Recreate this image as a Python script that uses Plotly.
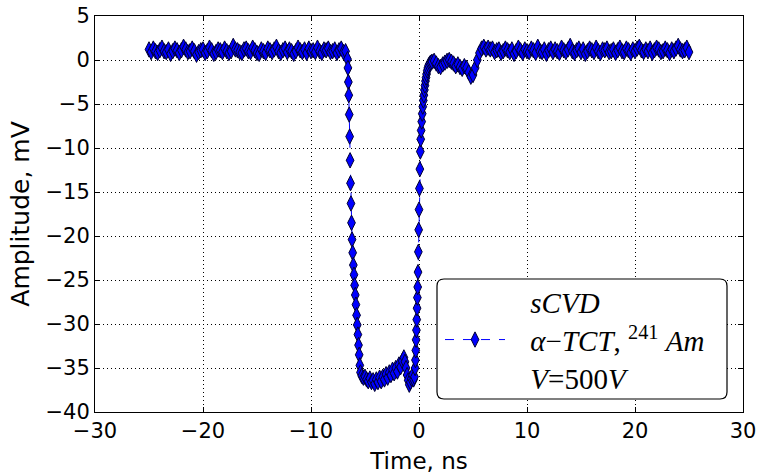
import plotly.graph_objects as go

# ---- data ----
t_pre = [-25.0, -24.8, -24.6, -24.4, -24.2, -24.0, -23.8, -23.6, -23.4, -23.2,
         -23.0, -22.8, -22.6, -22.4, -22.2, -22.0, -21.8, -21.6, -21.4, -21.2,
         -21.0, -20.8, -20.6, -20.4, -20.2, -20.0, -19.8, -19.6, -19.4, -19.2,
         -19.0, -18.8, -18.6, -18.4, -18.2, -18.0, -17.8, -17.6, -17.4, -17.2,
         -17.0, -16.8, -16.6, -16.4, -16.2, -16.0, -15.8, -15.6, -15.4, -15.2,
         -15.0, -14.8, -14.6, -14.4, -14.2, -14.0, -13.8, -13.6, -13.4, -13.2,
         -13.0, -12.8, -12.6, -12.4, -12.2, -12.0, -11.8, -11.6, -11.4, -11.2,
         -11.0, -10.8, -10.6, -10.4, -10.2, -10.0, -9.8, -9.6, -9.4, -9.2,
         -9.0, -8.8, -8.6, -8.4, -8.2, -8.0, -7.8, -7.6, -7.4, -7.2,
         -7.0, -6.8]
v_pre = [1.2, 0.9, 1.3, 1.0, 0.8, 1.1, 1.4, 1.0, 0.9, 1.2,
         0.7, 1.0, 1.3, 1.1, 0.8, 1.1, 1.5, 1.2, 0.9, 1.0,
         1.3, 1.0, 0.6, 0.9, 1.1, 1.2, 0.8, 1.0, 1.4, 1.1,
         0.7, 0.9, 1.2, 1.1, 0.9, 1.3, 1.0, 0.8, 1.0, 1.6,
         1.2, 1.1, 0.9, 0.8, 1.2, 1.3, 1.0, 0.9, 1.4, 1.1,
         0.8, 0.7, 1.2, 1.0, 0.8, 1.3, 1.1, 0.9, 1.2, 1.5,
         1.0, 0.8, 1.1, 1.3, 0.9, 1.2, 1.0, 0.7, 1.0, 1.4,
         1.1, 0.9, 1.2, 0.8, 1.3, 1.0, 1.1, 0.9, 1.4, 1.0,
         0.8, 1.2, 1.1, 1.3, 0.9, 1.0, 1.2, 0.8, 1.1, 1.3,
         0.9, 1.0]

t_fall = [-6.62, -6.58, -6.54, -6.50, -6.46, -6.42, -6.38, -6.34, -6.30, -6.25,
          -6.20, -6.14, -6.08, -6.02, -5.96, -5.90, -5.84, -5.78, -5.72, -5.66,
          -5.60, -5.54, -5.48, -5.42]
v_fall = [0.1, -0.9, -2.5, -4.0, -6.2, -8.7, -11.4, -14.0, -16.3, -18.5,
          -20.4, -21.9, -23.3, -24.4, -25.6, -26.7, -27.8, -29.0, -30.1, -31.2,
          -32.4, -33.5, -34.7, -35.5]

t_bottom = [-5.3, -5.15, -5.0, -4.85, -4.7, -4.55, -4.4, -4.25, -4.1, -3.95,
            -3.8, -3.65, -3.5, -3.35, -3.2, -3.05, -2.9, -2.75, -2.6, -2.45,
            -2.3, -2.15, -2.0, -1.85, -1.7, -1.55, -1.4, -1.3, -1.2, -1.1,
            -1.0, -0.9, -0.8, -0.7, -0.6, -0.5, -0.42]
v_bottom = [-35.9, -36.1, -36.0, -36.3, -36.5, -36.2, -36.6, -36.4, -36.8, -36.3,
            -36.6, -36.1, -36.5, -36.0, -36.3, -35.7, -36.1, -35.5, -35.8, -35.2,
            -35.6, -35.0, -35.4, -34.6, -34.9, -34.2, -33.8, -34.3, -35.0, -35.8,
            -36.4, -36.9, -36.6, -36.2, -35.8, -36.3, -36.0]

t_rise = [-0.36, -0.33, -0.30, -0.27, -0.24, -0.21, -0.18, -0.15, -0.12, -0.09,
          -0.06, -0.03, 0.0, 0.04, 0.08, 0.12, 0.16, 0.20, 0.25, 0.30,
          0.35, 0.40, 0.45, 0.50, 0.55, 0.60, 0.65, 0.70, 0.76, 0.82,
          0.90, 1.0, 1.1]
v_rise = [-35.0, -34.1, -33.0, -31.8, -30.7, -29.5, -28.2, -27.0, -25.8, -24.1,
          -21.8, -19.3, -17.0, -14.6, -12.4, -10.4, -9.0, -8.0, -7.0, -6.1,
          -5.3, -4.6, -4.0, -3.4, -2.9, -2.4, -2.0, -1.6, -1.2, -0.9,
          -0.6, -0.4, -0.3]

t_ring = [1.2, 1.4, 1.6, 1.8, 2.0, 2.2, 2.4, 2.6, 2.8, 3.0,
          3.2, 3.4, 3.6, 3.8, 4.0, 4.2, 4.4, 4.6, 4.8, 5.0,
          5.2, 5.4, 5.6, 5.8, 6.0, 6.2]
v_ring = [-0.2, -0.1, -0.4, -0.7, -0.8, -0.5, -0.3, -0.1, 0.0, -0.2,
          -0.4, -0.7, -0.5, -0.8, -1.0, -0.7, -0.9, -1.4, -1.9, -1.7,
          -0.9, 0.0, 0.8, 1.3, 1.5, 1.2]

t_post = [6.4, 6.6, 6.8, 7.0, 7.2, 7.4, 7.6, 7.8, 8.0, 8.2,
          8.4, 8.6, 8.8, 9.0, 9.2, 9.4, 9.6, 9.8, 10.0, 10.2,
          10.4, 10.6, 10.8, 11.0, 11.2, 11.4, 11.6, 11.8, 12.0, 12.2,
          12.4, 12.6, 12.8, 13.0, 13.2, 13.4, 13.6, 13.8, 14.0, 14.2,
          14.4, 14.6, 14.8, 15.0, 15.2, 15.4, 15.6, 15.8, 16.0, 16.2,
          16.4, 16.6, 16.8, 17.0, 17.2, 17.4, 17.6, 17.8, 18.0, 18.2,
          18.4, 18.6, 18.8, 19.0, 19.2, 19.4, 19.6, 19.8, 20.0, 20.2,
          20.4, 20.6, 20.8, 21.0, 21.2, 21.4, 21.6, 21.8, 22.0, 22.2,
          22.4, 22.6, 22.8, 23.0, 23.2, 23.4, 23.6, 23.8, 24.0, 24.2,
          24.4, 24.6, 24.8, 25.0]
v_post = [1.4, 1.2, 1.3, 0.9, 1.1, 1.2, 0.8, 1.0, 1.3, 1.1,
          0.9, 1.2, 0.7, 1.0, 1.4, 1.1, 0.8, 1.2, 1.0, 0.9,
          1.3, 1.1, 0.8, 1.5, 1.0, 0.9, 1.2, 0.7, 1.1, 1.3,
          0.9, 1.2, 1.0, 0.8, 1.4, 1.1, 0.9, 1.2, 1.6, 1.0,
          0.8, 1.1, 1.3, 0.9, 1.2, 0.7, 1.0, 1.3, 1.1, 0.9,
          1.4, 1.0, 0.8, 1.2, 1.1, 1.3, 0.9, 1.0, 1.2, 0.8,
          1.1, 1.4, 1.0, 0.9, 1.3, 1.1, 0.8, 1.2, 1.0, 1.3,
          1.5, 1.1, 0.9, 1.2, 1.0, 1.3, 0.8, 1.1, 1.4, 1.2,
          0.9, 1.0, 1.3, 1.1, 0.8, 1.2, 1.0, 1.3, 1.6, 1.2,
          1.0, 1.1, 1.4, 0.9]

x_ticks = [-30, -20, -10, 0, 10, 20, 30]
y_ticks = [5, 0, -5, -10, -15, -20, -25, -30, -35, -40]
x_title = "Time, ns"
y_title = "Amplitude, mV"
pad = "\u2002\u2009"
legend_lines = ["<i>sCVD</i>",
                "<i>α</i>−<i>TCT</i>, <sup>241</sup> <i>Am</i>",
                "<i>V</i>=500<i>V</i>"]
series_name = "<br>".join(pad + s for s in legend_lines)

time = t_pre + t_fall + t_bottom + t_rise + t_ring + t_post
amp = v_pre + v_fall + v_bottom + v_rise + v_ring + v_post
n = min(len(time), len(amp))
time, amp = time[:n], amp[:n]

fig = go.Figure()
fig.add_trace(go.Scatter(
    x=time, y=amp, mode="lines+markers", name=series_name,
    line=dict(color="#0000ff", width=1, dash="dash"),
    marker=dict(symbol="diamond-tall", size=11, color="#0000ff",
                line=dict(color="#000030", width=1)),
))

axis_common = dict(
    showline=True, linecolor="black", linewidth=1, mirror="ticks",
    ticks="inside", ticklen=5, tickcolor="black",
    showgrid=True, gridcolor="black", gridwidth=1, griddash="1px,3px",
    zeroline=False, automargin=False,
    tickfont=dict(family="DejaVu Sans", size=21, color="black"),
)
fig.update_xaxes(range=[-30, 30], tickvals=x_ticks,
                 title=dict(text=x_title, font=dict(family="DejaVu Sans", size=23, color="black"), standoff=10),
                 **axis_common)
fig.update_yaxes(range=[-40, 5], tickvals=y_ticks,
                 title=dict(text=y_title, font=dict(family="DejaVu Sans", size=25, color="black"), standoff=8),
                 **axis_common)

# plot area spans page x 95..743, y 16..412 (648 x 396 px)
W, H = 648.0, 396.0
x0, x1 = (437 - 95) / W, (727 - 95) / W
y0, y1 = (412 - 399) / H, (412 - 279) / H
rx, ry = 7 / W, 7 / H
path = (f"M{x0+rx},{y0} L{x1-rx},{y0} Q{x1},{y0} {x1},{y0+ry} "
        f"L{x1},{y1-ry} Q{x1},{y1} {x1-rx},{y1} L{x0+rx},{y1} "
        f"Q{x0},{y1} {x0},{y1-ry} L{x0},{y0+ry} Q{x0},{y0} {x0+rx},{y0} Z")
fig.add_shape(type="path", path=path, xref="paper", yref="paper",
              line=dict(color="black", width=1.2), fillcolor="white", layer="above")

fig.update_layout(
    width=757, height=474,
    margin=dict(l=95, r=14, t=16, b=62),
    paper_bgcolor="white", plot_bgcolor="white",
    showlegend=True,
    legend=dict(x=x0 + 3 / W, y=(412 - 340) / H, xanchor="left", yanchor="middle",
                bgcolor="rgba(0,0,0,0)", borderwidth=0, valign="middle",
                itemwidth=60,
                font=dict(family="Liberation Serif", size=29, color="black")),
)

fig.write_html("out.html",
               config={"displayModeBar": False},
               post_script="document.body.style.margin='0';"
                           "document.body.style.overflow='hidden';")
